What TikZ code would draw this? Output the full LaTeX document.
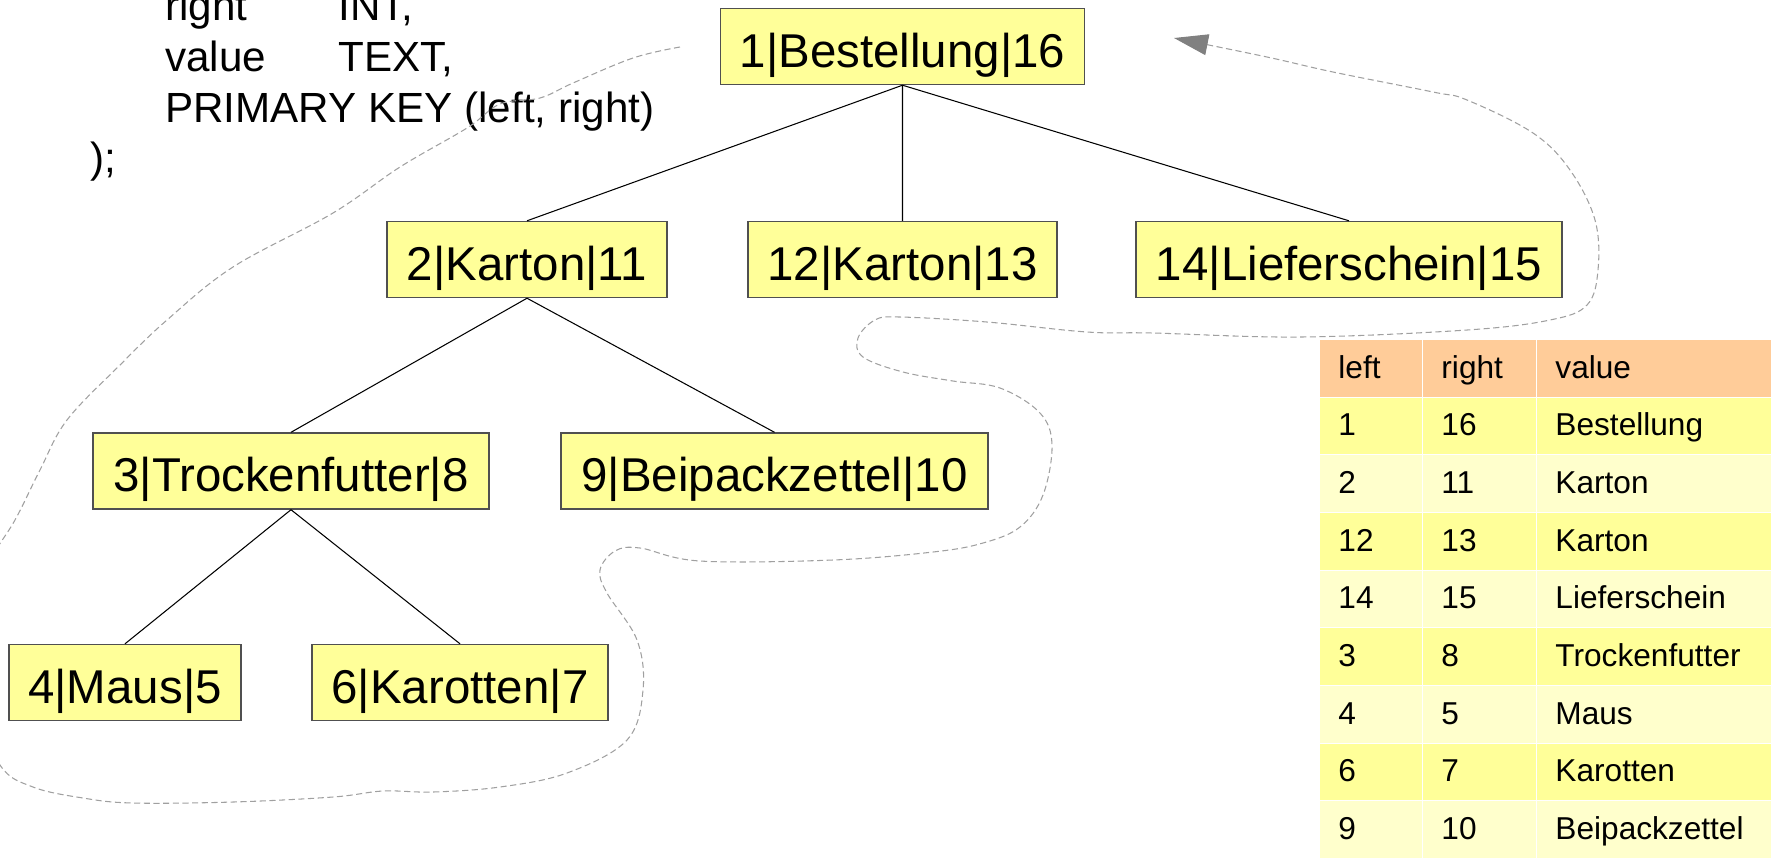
\documentclass[tikz,border=0pt]{standalone}
\usepackage{fontspec}
\setmainfont{Liberation Sans}
\usetikzlibrary{arrows.meta}
\definecolor{boxfill}{HTML}{FFFF99}
\definecolor{boxline}{HTML}{505050}
\definecolor{headfill}{HTML}{FFCC99}
\definecolor{rowA}{HTML}{FFFF99}
\definecolor{rowB}{HTML}{FFFFCC}
\definecolor{walk}{HTML}{A0A0A0}
\definecolor{walkTip}{HTML}{808080}
\tikzset{>=stealth}
\tikzstyle{item} = [rectangle, text centered, minimum height = 1.52cm, text height = 0.92cm, text depth = 0.10cm, fill = boxfill, draw = boxline, line width = 0.8pt, font = \fontsize{27}{32}\selectfont]
\tikzstyle{link} = [line width = 0.6pt]
\tikzstyle{sql} = [anchor = base west, inner sep = 0pt, font = \fontsize{24}{29}\selectfont]
\tikzstyle{cell} = [rectangle, anchor = north west, inner xsep = 0.38cm, inner ysep = 0pt, minimum height = 1.153cm, text height = 0.5cm, text depth = 0.1cm, align = left, draw = white, line width = 0.5pt, font = \fontsize{18}{22}\selectfont]

\begin{document}
\begin{tikzpicture}
    \useasboundingbox (0,0) rectangle (35.42,-17.16);
    \clip (0,0) rectangle (35.42,-17.16);

    % table definition, top lines run off the page
    \node (sqlRight) [sql] at (3.30,-0.40) {\makebox[3.46cm][l]{right}INT,};
    \node (sqlValue) [sql] at (3.30,-1.42) {\makebox[3.46cm][l]{value}TEXT,};
    \node (sqlKey) [sql] at (3.30,-2.44) {PRIMARY KEY (left, right)};
    \node (sqlEnd) [sql] at (1.80,-3.44) {);};

    % the tree
    \node (bestellung) [item, minimum width = 7.28cm] at (18.05,-0.93) {1|Bestellung|16};
    \node (kartonA) [item, minimum width = 5.60cm] at (10.54,-5.19) {2|Karton|11};
    \node (kartonB) [item, minimum width = 6.18cm, right of = kartonA, node distance = 7.51cm] {12|Karton|13};
    \node (lieferschein) [item, minimum width = 8.52cm, right of = kartonB, node distance = 8.93cm] {14|Lieferschein|15};
    \node (trockenfutter) [item, minimum width = 7.92cm] at (5.82,-9.42) {3|Trockenfutter|8};
    \node (beipackzettel) [item, minimum width = 8.54cm, right of = trockenfutter, node distance = 9.67cm] {9|Beipackzettel|10};
    \node (maus) [item, minimum width = 4.64cm] at (2.50,-13.65) {4|Maus|5};
    \node (karotten) [item, minimum width = 5.92cm, right of = maus, node distance = 6.70cm] {6|Karotten|7};

    \draw [link] (bestellung.south) -- (kartonA.north);
    \draw [link] (bestellung.south) -- (kartonB.north);
    \draw [link] (bestellung.south) -- (lieferschein.north);
    \draw [link] (kartonA.south) -- (trockenfutter.north);
    \draw [link] (kartonA.south) -- (beipackzettel.north);
    \draw [link] (trockenfutter.south) -- (maus.north);
    \draw [link] (trockenfutter.south) -- (karotten.north);

    % walk round the tree
    \draw [walk, line width = 0.6pt, dash pattern = on 3.5pt off 2pt, -{Triangle[length = 0.68cm, width = 0.42cm, color = walkTip]}]
        plot [smooth, tension = 0.6] coordinates {
        (13.60,-0.94) (12.66,-1.16) (11.46,-1.66) (10.80,-1.96) (10.00,-2.08) (9.34,-2.56)
        (8.00,-3.34) (6.66,-4.26) (4.66,-5.34) (3.34,-6.40) (2.40,-7.30) (1.34,-8.40)
        (0.80,-9.40) (0.30,-10.40) (-0.20,-11.20) (-0.50,-12.00) (-0.50,-14.00) (0.00,-15.30)
        (0.66,-15.74) (1.66,-15.96) (2.66,-16.06) (4.66,-16.04) (6.66,-15.94) (7.66,-15.82)
        (8.66,-15.84) (10.00,-15.74) (11.34,-15.46) (12.54,-14.80) (12.86,-13.80) (12.74,-12.80)
        (12.14,-11.86) (12.00,-11.40) (12.30,-11.02) (12.80,-10.96) (14.00,-11.22) (16.66,-11.20)
        (18.66,-11.04) (19.66,-10.86) (20.40,-10.54) (20.86,-9.90) (21.04,-8.90) (20.80,-8.26)
        (20.00,-7.76) (19.06,-7.62) (18.06,-7.44) (17.26,-7.14) (17.16,-6.76) (17.50,-6.40)
        (18.00,-6.34) (19.74,-6.44) (21.74,-6.64) (23.06,-6.66) (26.00,-6.74) (29.34,-6.60)
        (31.00,-6.40) (31.74,-6.10) (31.96,-5.40) (31.90,-4.40) (31.40,-3.40) (30.66,-2.66)
        (29.34,-2.00) (28.66,-1.84) (26.66,-1.44) (25.34,-1.14) (23.48,-0.76)};

    % nested set table
    \node (headL) [cell, fill = headfill, text width = 1.30cm] at (26.38,-6.78) {left};
    \node (headR) [cell, fill = headfill, text width = 1.52cm] at (28.44,-6.78) {right};
    \node (headV) [cell, fill = headfill, text width = 4.04cm] at (30.72,-6.78) {value};
    \foreach \l/\r/\v [count = \i] in {1/16/Bestellung, 2/11/Karton, 12/13/Karton, 14/15/Lieferschein, 3/8/Trockenfutter, 4/5/Maus, 6/7/Karotten, 9/10/Beipackzettel} {
        \ifodd\i \def\rowcol{rowA}\else \def\rowcol{rowB}\fi
        \node (cellL\i) [cell, fill = \rowcol, text width = 1.30cm] at (26.38,-6.78-1.153*\i) {\l};
        \node (cellR\i) [cell, fill = \rowcol, text width = 1.52cm] at (28.44,-6.78-1.153*\i) {\r};
        \node (cellV\i) [cell, fill = \rowcol, text width = 4.04cm] at (30.72,-6.78-1.153*\i) {\v};
    }
\end{tikzpicture}
\end{document}
